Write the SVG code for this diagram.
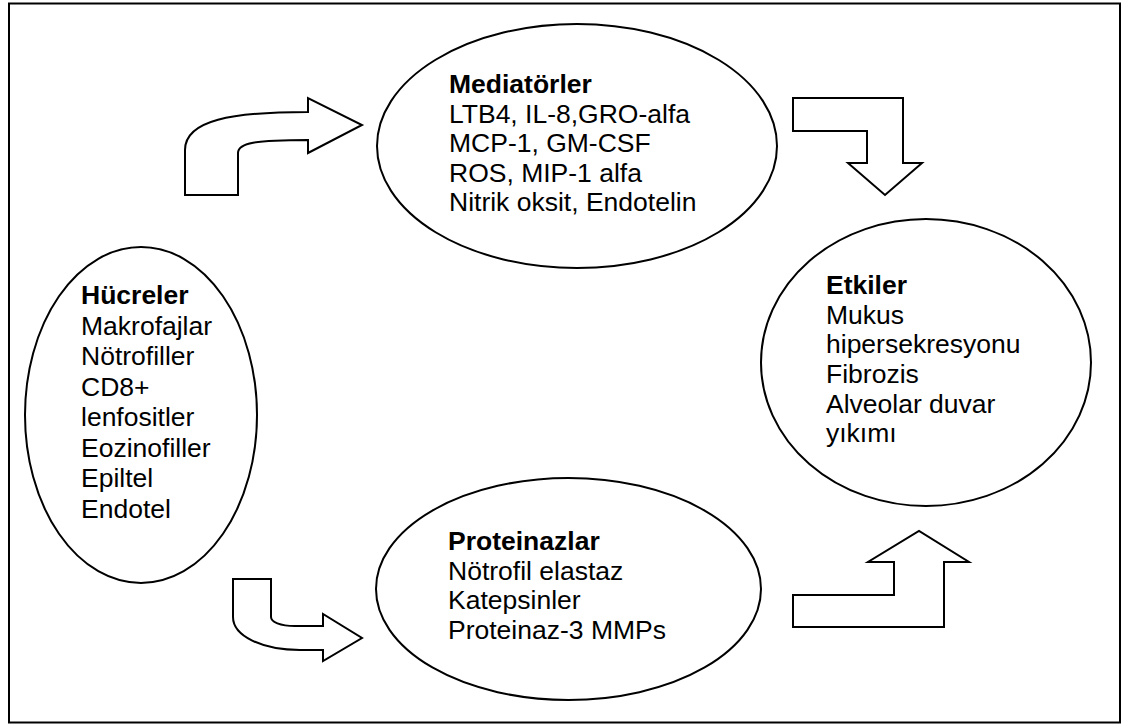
<svg xmlns="http://www.w3.org/2000/svg" width="1122" height="727" viewBox="0 0 1122 727">
<style>
.frame{fill:#fff;stroke:#000;stroke-width:2}
.ell{fill:#fff;stroke:#000;stroke-width:2}
.arr{fill:#fff;stroke:#000;stroke-width:2;stroke-linejoin:miter}
text{font-family:"Liberation Sans",Arial,sans-serif;font-size:26.5px;fill:#000}
.h{font-weight:bold}
</style>
<rect class="frame" x="9" y="3.5" width="1111" height="719"/>
<g id="connectors">
<path id="arrow-cells-mediators" class="arr" d="M185,195 L185,150 C185,120 232,112 308,112 L308,98 L362,125 L308,153 L308,140 C255,140 238,143 238,153 L238,195 Z"/>
<path id="arrow-mediators-effects" class="arr" d="M793,98 L903,98 L903,163 L922,163 L885,195 L848,163 L867,163 L867,131 L793,131 Z"/>
<path id="arrow-cells-proteinases" class="arr" d="M233,579 L271,579 L271,617 C271,622 280,626 295,626 L323,626 L323,614 L362,638 L323,661 L323,650 L300,650 C262,650 233,636 233,617 Z"/>
<path id="arrow-proteinases-effects" class="arr" d="M793,595 L894,595 L894,562 L868,562 L919,531 L969,562 L944,562 L944,627 L793,627 Z"/>
</g>
<g id="node-mediatorler">
<ellipse class="ell" cx="577" cy="146" rx="200" ry="122"/>
<text x="449" y="93" class="h">Mediatörler</text>
<text x="449" y="123">LTB4, IL-8,GRO-alfa</text>
<text x="449" y="152">MCP-1, GM-CSF</text>
<text x="449" y="182">ROS, MIP-1 alfa</text>
<text x="449" y="211">Nitrik oksit, Endotelin</text>
</g>
<g id="node-hucreler">
<ellipse class="ell" cx="141" cy="415" rx="116" ry="168"/>
<text x="81" y="304" class="h">Hücreler</text>
<text x="81" y="334.5">Makrofajlar</text>
<text x="81" y="365">Nötrofiller</text>
<text x="81" y="395.5">CD8+</text>
<text x="81" y="426">lenfositler</text>
<text x="81" y="456.5">Eozinofiller</text>
<text x="81" y="487">Epiltel</text>
<text x="81" y="517.5">Endotel</text>
</g>
<g id="node-etkiler">
<ellipse class="ell" cx="926" cy="362.5" rx="165" ry="143.5"/>
<text x="826" y="294" class="h">Etkiler</text>
<text x="826" y="323.5">Mukus</text>
<text x="826" y="353">hipersekresyonu</text>
<text x="826" y="383">Fibrozis</text>
<text x="826" y="413">Alveolar duvar</text>
<text x="826" y="442">yıkımı</text>
</g>
<g id="node-proteinazlar">
<ellipse class="ell" cx="568.5" cy="589" rx="192.5" ry="111"/>
<text x="448" y="550" class="h">Proteinazlar</text>
<text x="448" y="580">Nötrofil elastaz</text>
<text x="448" y="609">Katepsinler</text>
<text x="448" y="639">Proteinaz-3 MMPs</text>
</g>
</svg>
